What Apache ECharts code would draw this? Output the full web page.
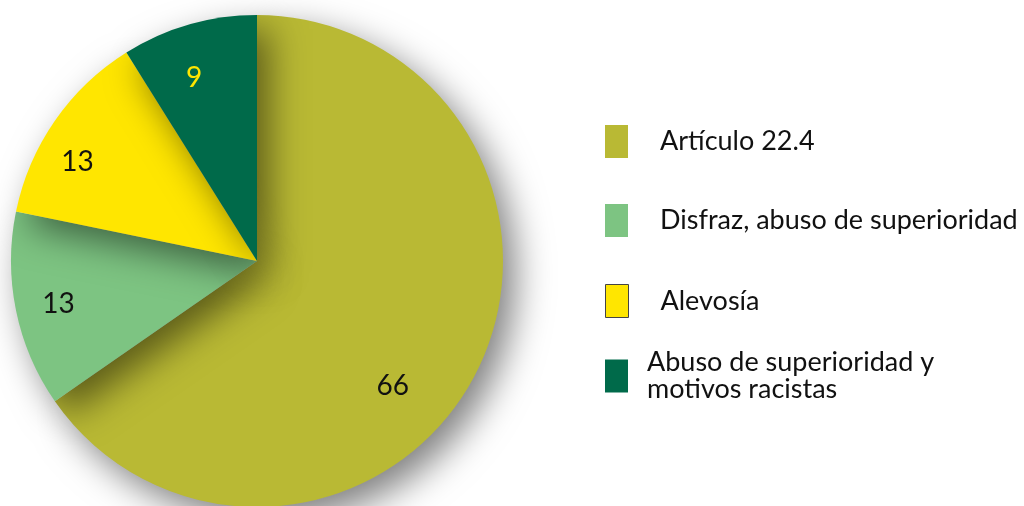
<!DOCTYPE html>
<html>
<head>
<meta charset="utf-8">
<script src="https://cdn.jsdelivr.net/npm/echarts@6/dist/echarts.min.js"></script>
<style>
    html, body { margin: 0; padding: 0; background: #fff; }
    #chart { width: 1024px; height: 506px; }
</style>
</head>
<body>
<div id="chart"></div>
<script>
const categories = ['Artículo 22.4', 'Disfraz, abuso de superioridad', 'Alevosía', 'Abuso de superioridad y\nmotivos racistas'];
const values = [66, 13, 13, 9];
const colors = ['#b9b934', '#7dc482', '#ffe600', '#006a4a'];

// nudges for the value labels, the source places them by hand
const labelShift = [[24, 67], [-75, 18], [-76, -27], [-28, -62]];
const legendTops = [125, 204, 284, 349];
const legendGaps = [32, 32, 32, 19];

const chart = echarts.init(document.getElementById('chart'));

const legends = categories.map((name, i) => ({
    data: [i === 2 ? {name: name, itemStyle: {borderColor: '#444', borderWidth: 1}} : name],
    left: 605,
    top: legendTops[i],
    orient: 'vertical',
    icon: 'rect',
    itemWidth: 23,
    itemHeight: 33,
    itemGap: 0,
    padding: 0,
    selectedMode: false,
    textStyle: {
        fontFamily: 'Lato',
        fontSize: 27,
        color: '#111',
        lineHeight: 27,
        padding: [0, 0, 0, legendGaps[i] - 5]
    }
}));

chart.setOption({
    animation: false,
    color: colors,
    legend: legends,
    series: [{
        type: 'pie',
        center: [257, 261],
        radius: 246,
        startAngle: 90,
        clockwise: true,
        data: categories.map((name, i) => ({
            name: name,
            value: values[i],
            label: i === 3 ? {color: '#ffe600'} : {}
        })),
        itemStyle: {
            shadowBlur: 36,
            shadowOffsetX: 12,
            shadowOffsetY: 14,
            shadowColor: 'rgba(0,0,0,0.5)'
        },
        label: {
            show: true,
            position: 'inside',
            formatter: '{c}',
            fontFamily: 'Lato',
            fontSize: 28,
            color: '#111'
        },
        labelLayout: function (params) {
            const s = labelShift[params.dataIndex];
            return {dx: s[0], dy: s[1]};
        },
        emphasis: {disabled: true}
    }]
});
</script>
</body>
</html>
